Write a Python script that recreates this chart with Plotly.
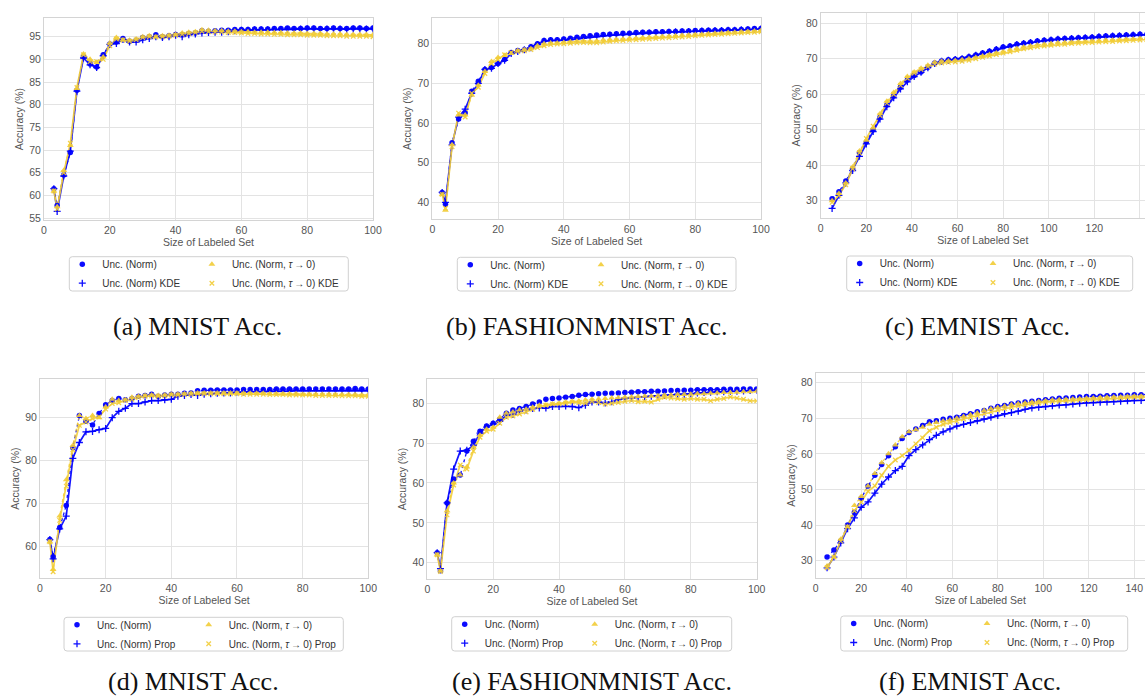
import plotly.graph_objects as go

W, H = 1145, 699
SANS = "Liberation Sans, Arial, sans-serif"
SERIF = "Liberation Serif, Times New Roman, serif"
BLUE = "#0000ff"
GOLD = "#f2cd37"
TICK_GREY = "#555555"

# Labeled-set sizes at which accuracy was recorded
x_mnist = [3, 4] + list(range(6, 101, 2))
x_emnist = list(range(5, 147, 3))

# ---- (a) MNIST, KDE variants ----
a_norm = [61.5, 57.8, 64.5, 69.5, 83.2, 90.6, 89.0, 88.3, 91.0, 93.4,
          93.8, 94.6, 94.0, 94.2, 94.8, 95.0, 95.4, 95.0, 95.2, 95.5,
          95.5, 95.7, 95.8, 96.3, 96.2, 96.3, 96.4, 96.4, 96.6, 96.6,
          96.6, 96.7, 96.7, 96.7, 96.8, 96.8, 96.9, 96.8, 96.8, 96.9,
          96.9, 96.8, 96.8, 96.9, 96.8, 96.8, 96.9, 96.9, 96.8, 96.9]
a_norm_kde = [61.5, 56.5, 64.3, 69.8, 83.0, 90.3, 88.8, 88.2, 90.8, 93.3,
              93.5, 94.4, 93.8, 93.8, 94.3, 94.6, 95.0, 94.8, 95.0, 95.3,
              95.0, 95.4, 95.6, 95.8, 95.9, 96.0, 96.0, 96.1, 96.3, 96.4,
              96.4, 96.5, 96.5, 96.5, 96.6, 96.6, 96.6, 96.6, 96.7, 96.7,
              96.7, 96.6, 96.7, 96.7, 96.7, 96.6, 96.7, 96.7, 96.7, 96.7]
a_tau = [61.0, 57.5, 65.5, 71.0, 83.6, 91.2, 90.0, 89.3, 90.5, 93.6,
         94.8, 94.3, 94.2, 94.5, 95.0, 95.2, 95.0, 95.2, 95.3, 95.5,
         95.8, 96.0, 96.1, 96.5, 96.4, 96.3, 96.3, 96.2, 96.2, 96.1,
         96.1, 96.0, 96.0, 96.0, 95.9, 95.9, 95.8, 95.8, 95.8, 95.7,
         95.7, 95.7, 95.6, 95.6, 95.6, 95.5, 95.5, 95.5, 95.5, 95.4]
a_tau_kde = [61.0, 57.0, 65.0, 71.5, 83.8, 91.0, 89.5, 89.5, 90.0, 93.0,
             94.5, 94.2, 94.0, 94.3, 94.8, 95.0, 94.9, 95.0, 95.1, 95.3,
             95.5, 95.7, 95.9, 96.2, 96.1, 96.0, 96.0, 95.9, 95.9, 95.8,
             95.7, 95.7, 95.6, 95.6, 95.5, 95.5, 95.4, 95.4, 95.4, 95.3,
             95.3, 95.3, 95.2, 95.2, 95.2, 95.1, 95.1, 95.1, 95.1, 95.0]

# ---- (b) FASHIONMNIST, KDE variants ----
b_norm = [42.5, 39.5, 55.0, 61.0, 62.5, 68.0, 70.5, 73.5, 74.0, 75.0,
          76.0, 77.8, 78.3, 78.5, 79.2, 80.0, 80.8, 81.0, 81.0, 81.2,
          81.4, 81.6, 81.8, 82.0, 82.2, 82.3, 82.4, 82.5, 82.6, 82.6,
          82.8, 82.9, 82.9, 83.0, 83.0, 83.1, 83.1, 83.2, 83.2, 83.3,
          83.3, 83.4, 83.4, 83.4, 83.5, 83.5, 83.6, 83.7, 83.8, 83.8]
b_norm_kde = [42.5, 40.0, 54.5, 61.5, 63.5, 67.5, 70.0, 73.5, 73.8, 75.0,
              75.8, 77.5, 78.0, 78.5, 79.0, 79.8, 80.6, 80.8, 80.8, 80.9,
              81.0, 81.2, 81.4, 81.6, 81.8, 82.0, 82.1, 82.2, 82.3, 82.4,
              82.5, 82.6, 82.7, 82.8, 82.8, 82.9, 83.0, 83.0, 83.1, 83.1,
              83.2, 83.2, 83.3, 83.3, 83.4, 83.4, 83.5, 83.5, 83.6, 83.7]
b_tau = [42.0, 38.0, 54.5, 62.0, 62.0, 67.0, 69.5, 73.0, 75.5, 76.5,
         77.0, 77.5, 78.3, 78.5, 78.7, 79.5, 80.0, 80.2, 80.2, 80.3,
         80.5, 80.6, 80.7, 80.6, 80.7, 80.9, 81.0, 81.1, 81.2, 81.3,
         81.4, 81.5, 81.6, 81.7, 81.8, 81.9, 82.0, 82.1, 82.2, 82.3,
         82.4, 82.5, 82.6, 82.7, 82.8, 82.9, 83.0, 83.1, 83.2, 83.3]
b_tau_kde = [42.0, 38.5, 54.0, 62.5, 61.5, 67.5, 69.0, 72.5, 75.0, 76.0,
             77.2, 77.8, 78.0, 78.2, 78.5, 79.0, 79.5, 79.8, 79.9, 80.0,
             80.1, 80.2, 80.3, 80.2, 80.2, 80.4, 80.6, 80.7, 80.8, 80.9,
             81.0, 81.1, 81.2, 81.3, 81.4, 81.5, 81.6, 81.7, 81.8, 82.0,
             82.1, 82.2, 82.3, 82.4, 82.5, 82.6, 82.7, 82.8, 82.9, 83.0]

# ---- (c) EMNIST, KDE variants ----
c_norm = [30.5, 32.5, 35.5, 39.0, 43.5, 46.5, 50.0, 53.5, 57.0, 59.5,
          62.0, 64.0, 65.3, 66.3, 67.6, 68.8, 69.4, 69.7, 69.9, 70.1,
          70.6, 71.1, 71.6, 72.1, 72.7, 73.3, 73.6, 74.1, 74.4, 74.7,
          75.0, 75.2, 75.4, 75.6, 75.7, 75.8, 75.9, 76.0, 76.1, 76.3,
          76.4, 76.5, 76.6, 76.7, 76.8, 76.9, 76.9, 77.0]
c_norm_kde = [27.8, 31.5, 35.0, 38.5, 42.5, 46.0, 49.5, 53.0, 56.5, 59.0,
              61.5, 63.5, 65.0, 66.2, 67.5, 68.7, 69.3, 69.6, 69.8, 70.0,
              70.5, 71.0, 71.5, 72.0, 72.6, 73.2, 73.5, 74.0, 74.3, 74.6,
              74.9, 75.1, 75.3, 75.5, 75.6, 75.7, 75.8, 75.9, 76.0, 76.2,
              76.3, 76.4, 76.5, 76.6, 76.7, 76.8, 76.8, 76.9]
c_tau = [30.0, 32.0, 35.0, 39.5, 44.0, 47.0, 50.5, 54.5, 58.0, 60.5,
         63.0, 65.0, 66.3, 67.3, 68.2, 69.0, 69.3, 69.4, 69.5, 69.7,
         70.0, 70.4, 70.8, 71.2, 71.6, 72.0, 72.5, 72.9, 73.3, 73.6,
         73.9, 74.1, 74.3, 74.5, 74.6, 74.7, 74.8, 74.9, 75.0, 75.1,
         75.2, 75.3, 75.4, 75.5, 75.6, 75.7, 75.8, 75.9]
c_tau_kde = [29.5, 31.5, 34.5, 39.0, 43.5, 47.5, 51.0, 54.0, 57.5, 60.0,
             62.5, 64.5, 66.0, 67.0, 67.8, 68.5, 68.8, 69.0, 69.1, 69.3,
             69.6, 70.0, 70.4, 70.8, 71.2, 71.6, 72.0, 72.4, 72.8, 73.1,
             73.4, 73.6, 73.8, 74.0, 74.1, 74.3, 74.4, 74.5, 74.6, 74.7,
             74.8, 74.9, 75.0, 75.1, 75.2, 75.3, 75.4, 75.5]

# ---- (d) MNIST, Prop variants ----
d_norm = [61.5, 57.5, 64.3, 69.5, 83.0, 90.5, 89.2, 88.3, 91.0, 93.0,
          94.0, 94.5, 94.2, 94.5, 95.0, 95.2, 95.5, 95.0, 95.3, 95.5,
          95.5, 95.7, 95.8, 96.3, 96.4, 96.4, 96.5, 96.5, 96.5, 96.5,
          96.6, 96.6, 96.6, 96.6, 96.6, 96.7, 96.7, 96.7, 96.7, 96.7,
          96.7, 96.7, 96.7, 96.7, 96.7, 96.7, 96.7, 96.8, 96.7, 96.7]
d_norm_prop = [61.5, 57.0, 64.0, 67.0, 80.5, 84.2, 86.7, 86.8, 87.2, 87.5,
               90.0, 91.5, 92.2, 93.3, 93.3, 93.7, 94.0, 94.0, 94.2, 94.3,
               95.0, 95.2, 95.4, 95.2, 95.5, 95.6, 95.7, 95.8, 95.8, 96.0,
               96.0, 96.1, 96.1, 96.1, 96.2, 96.2, 96.2, 96.2, 96.3, 96.3,
               96.3, 96.3, 96.3, 96.3, 96.3, 96.3, 96.3, 96.3, 96.3, 96.3]
d_tau = [61.0, 54.5, 67.0, 75.5, 83.5, 90.5, 89.8, 90.5, 90.0, 92.5,
         94.3, 94.0, 94.2, 94.8, 95.0, 95.2, 95.3, 95.2, 95.3, 95.5,
         95.5, 95.6, 95.7, 95.8, 95.8, 95.8, 95.8, 95.8, 95.8, 95.8,
         95.7, 95.7, 95.7, 95.7, 95.6, 95.6, 95.6, 95.6, 95.6, 95.5,
         95.5, 95.5, 95.5, 95.5, 95.4, 95.4, 95.4, 95.4, 95.3, 95.3]
d_tau_prop = [61.0, 54.0, 66.0, 74.0, 82.5, 88.2, 89.0, 89.8, 90.2, 92.0,
              93.3, 93.5, 94.0, 94.3, 94.7, 95.0, 95.1, 95.0, 95.1, 95.3,
              95.3, 95.4, 95.5, 95.6, 95.6, 95.6, 95.6, 95.6, 95.6, 95.6,
              95.5, 95.5, 95.5, 95.5, 95.4, 95.4, 95.4, 95.3, 95.3, 95.3,
              95.3, 95.2, 95.2, 95.2, 95.2, 95.1, 95.1, 95.1, 95.0, 95.0]

# ---- (e) FASHIONMNIST, Prop variants ----
e_norm = [42.5, 38.0, 55.0, 61.0, 62.0, 68.0, 70.5, 73.0, 74.3, 75.0,
          76.0, 77.5, 78.3, 78.7, 79.2, 79.8, 80.3, 81.0, 81.2, 81.3,
          81.5, 81.7, 82.0, 82.2, 82.3, 82.4, 82.5, 82.5, 82.6, 82.7,
          82.8, 82.9, 82.9, 83.0, 83.0, 83.1, 83.2, 83.2, 83.3, 83.3,
          83.4, 83.4, 83.4, 83.4, 83.5, 83.5, 83.5, 83.6, 83.6, 83.6]
e_norm_prop = [42.5, 38.5, 55.0, 63.5, 68.0, 68.2, 69.5, 72.5, 74.0, 74.8,
               75.5, 77.0, 77.2, 78.0, 78.3, 78.7, 78.8, 78.8, 79.2, 79.2,
               79.3, 79.2, 78.9, 79.5, 80.3, 80.3, 80.1, 80.4, 80.9, 81.2,
               81.3, 81.5, 81.6, 81.8, 81.9, 82.0, 82.2, 82.3, 82.3, 82.4,
               82.6, 82.7, 82.8, 82.9, 82.9, 83.0, 83.0, 83.1, 83.2, 83.3]
e_tau = [42.0, 38.0, 53.0, 60.0, 62.0, 64.0, 69.0, 72.0, 73.5, 74.0,
         76.5, 77.5, 77.8, 78.3, 78.5, 79.0, 79.5, 79.6, 79.8, 80.0,
         80.3, 80.5, 80.6, 80.8, 81.0, 81.1, 81.2, 81.3, 81.4, 81.5,
         81.6, 81.7, 81.8, 81.8, 81.9, 82.0, 82.1, 82.2, 82.2, 82.3,
         82.4, 82.4, 82.5, 82.6, 82.7, 82.7, 82.8, 82.9, 82.9, 83.0]
e_tau_prop = [42.0, 37.8, 52.0, 59.5, 64.5, 63.5, 68.0, 71.5, 73.0, 73.5,
              75.0, 76.5, 76.8, 77.3, 77.8, 78.5, 79.2, 79.5, 79.8, 79.8,
              80.0, 80.3, 80.1, 80.0, 80.5, 80.2, 79.8, 80.0, 80.2, 80.5,
              80.7, 80.4, 80.5, 80.3, 81.0, 81.5, 81.3, 81.2, 81.0, 81.2,
              81.0, 81.0, 80.6, 81.0, 81.2, 81.6, 81.3, 81.0, 80.6, 80.6]

# ---- (f) EMNIST, Prop variants ----
f_norm = [31.0, 33.0, 35.5, 40.0, 43.5, 47.5, 51.0, 54.0, 57.0, 59.5,
          62.0, 64.3, 66.0, 67.0, 68.0, 69.0, 69.3, 69.7, 70.0, 70.3,
          70.8, 71.3, 71.8, 72.2, 72.8, 73.3, 73.6, 74.0, 74.3, 74.6,
          74.8, 75.0, 75.2, 75.4, 75.6, 75.7, 75.8, 76.0, 76.1, 76.1,
          76.2, 76.3, 76.4, 76.5, 76.5, 76.6, 76.6, 76.7]
f_norm_prop = [28.0, 31.0, 35.0, 39.0, 42.0, 45.0, 46.5, 49.0, 51.5, 53.5,
               55.3, 56.5, 59.5, 61.2, 62.5, 64.0, 65.2, 66.2, 67.0, 67.8,
               68.3, 68.8, 69.3, 69.8, 70.3, 70.8, 71.3, 71.6, 72.0, 72.5,
               72.9, 73.1, 73.3, 73.5, 73.7, 73.8, 74.0, 74.2, 74.3, 74.4,
               74.5, 74.6, 74.7, 74.8, 74.9, 75.0, 75.0, 75.1]
f_tau = [28.5, 31.0, 36.0, 39.5, 45.5, 48.0, 51.0, 54.5, 57.5, 60.0,
         62.5, 64.8, 66.2, 66.8, 67.5, 68.3, 68.8, 69.2, 69.5, 70.0,
         70.5, 71.0, 71.5, 72.2, 72.7, 73.0, 73.4, 73.8, 74.1, 74.3,
         74.5, 74.7, 74.9, 75.1, 75.2, 75.3, 75.4, 75.5, 75.6, 75.7,
         75.8, 75.9, 76.0, 76.0, 76.1, 76.2, 76.2, 76.3]
f_tau_prop = [28.0, 31.0, 35.5, 39.5, 44.0, 46.5, 49.5, 51.0, 54.0, 56.5,
              58.3, 59.5, 61.0, 62.8, 64.5, 66.5, 67.5, 68.3, 68.8, 69.2,
              69.8, 70.3, 70.8, 71.3, 71.8, 72.3, 72.7, 73.1, 73.5, 73.8,
              74.1, 74.3, 74.5, 74.7, 74.8, 74.9, 75.0, 75.1, 75.2, 75.3,
              75.4, 75.5, 75.6, 75.7, 75.8, 75.9, 75.9, 76.0]

x_ticks_100 = [0, 20, 40, 60, 80, 100]
x_ticks_140 = [0, 20, 40, 60, 80, 100, 120, 140]
y_ticks_a = [55, 60, 65, 70, 75, 80, 85, 90, 95]
y_ticks_b = [40, 50, 60, 70, 80]
y_ticks_c = [30, 40, 50, 60, 70, 80]
y_ticks_d = [60, 70, 80, 90]
y_ticks_e = [40, 50, 60, 70, 80]
y_ticks_f = [30, 40, 50, 60, 70, 80]

# Panel layout in pixels: plot box (l, t, r, b), legend box (l, t, r, b),
# offset of the second legend column, caption centre / baseline
panels = [
    dict(x=x_mnist, ys=(a_norm, a_norm_kde, a_tau, a_tau_kde), tag="KDE",
         caption="(a) MNIST Acc.", plot=(44, 18.3, 373, 220), xr=(0, 100), yr=(54.6, 99.05),
         xt=x_ticks_100, yt=y_ticks_a, leg=(69.3, 256.7, 348.3, 291), colw=129.6, cap=(197.5, 335)),
    dict(x=x_mnist, ys=(b_norm, b_norm_kde, b_tau, b_tau_kde), tag="KDE",
         caption="(b) FASHIONMNIST Acc.", plot=(432.3, 18.3, 761, 219), xr=(0, 100), yr=(35.8, 86.4),
         xt=x_ticks_100, yt=y_ticks_b, leg=(457.3, 257.3, 736, 291), colw=130.7, cap=(586.5, 335)),
    dict(x=x_emnist, ys=(c_norm, c_norm_kde, c_tau, c_tau_kde), tag="KDE",
         caption="(c) EMNIST Acc.", plot=(820.7, 12.7, 1145, 218), xr=(0, 142.2), yr=(25.1, 83.0),
         xt=x_ticks_140, yt=y_ticks_c, leg=(846.7, 256, 1132.7, 291), colw=133.3, cap=(977, 335)),
    dict(x=x_mnist, ys=(d_norm, d_norm_prop, d_tau, d_tau_prop), tag="Prop",
         caption="(d) MNIST Acc.", plot=(40, 379, 368.3, 578.3), xr=(0, 100), yr=(52.45, 99.05),
         xt=x_ticks_100, yt=y_ticks_d, leg=(64, 617.3, 343.3, 651), colw=131.7, cap=(193, 690)),
    dict(x=x_mnist, ys=(e_norm, e_norm_prop, e_tau, e_tau_prop), tag="Prop",
         caption="(e) FASHIONMNIST Acc.", plot=(427.3, 379, 756.7, 579), xr=(0, 100), yr=(35.9, 86.1),
         xt=x_ticks_100, yt=y_ticks_e, leg=(451.7, 616.7, 731.7, 651), colw=130.0, cap=(591.7, 690)),
    dict(x=x_emnist, ys=(f_norm, f_norm_prop, f_tau, f_tau_prop), tag="Prop",
         caption="(f) EMNIST Acc.", plot=(815.7, 372.7, 1145, 578.3), xr=(0, 144.7), yr=(25.05, 82.8),
         xt=x_ticks_140, yt=y_ticks_f, leg=(840.7, 616, 1127.7, 651), colw=133.3, cap=(970, 690)),
]

TAU = "Unc. (Norm, <i>\u03c4</i>\u2009\u2192\u20090)"
# name, colour, line dash, line width, marker symbol, marker size, legend column
styles = [
    ("Unc. (Norm)", BLUE, "dot", 1.3, "circle", 5.5, 0),
    ("Unc. (Norm) {tag}", BLUE, "solid", 1.7, "cross-thin", 5, 0),
    (TAU, GOLD, "dot", 1.3, "triangle-up", 6, 1),
    (TAU + " {tag}", GOLD, "solid", 1.7, "x-thin", 4.5, 1),
]


def px_x(v):
    return v / W


def px_y(v):
    return 1 - v / H


def rounded_box(l, t, r, b, rad=3.0):
    xl, xr_ = px_x(l), px_x(r)
    yt, yb = px_y(t), px_y(b)
    dx, dy = rad / W, rad / H
    return (f"M {xl + dx},{yt} L {xr_ - dx},{yt} Q {xr_},{yt} {xr_},{yt - dy} "
            f"L {xr_},{yb + dy} Q {xr_},{yb} {xr_ - dx},{yb} "
            f"L {xl + dx},{yb} Q {xl},{yb} {xl},{yb + dy} "
            f"L {xl},{yt - dy} Q {xl},{yt} {xl + dx},{yt} Z")


def legend_id(n):
    return "legend" if n == 1 else f"legend{n}"


fig = go.Figure()
layout = dict(
    width=W, height=H, margin=dict(l=0, r=0, t=0, b=0),
    paper_bgcolor="white", plot_bgcolor="white", showlegend=True,
    font=dict(family=SANS, color=TICK_GREY, size=10.5),
    template="none", shapes=[], annotations=[],
)

for i, p in enumerate(panels, start=1):
    s = "" if i == 1 else str(i)
    pl, pt, pr, pb = p["plot"]
    ll, lt, lr, lb = p["leg"]
    col_legends = [legend_id(2 * i - 1), legend_id(2 * i)]

    # connecting lines
    for (name, col, dash, lw, sym, ms, colno), y in zip(styles, p["ys"]):
        fig.add_trace(go.Scatter(
            x=p["x"], y=y, mode="lines", xaxis="x" + s, yaxis="y" + s,
            line=dict(color=col, width=lw, dash=dash),
            opacity=0.9 if col == BLUE else 0.85, showlegend=False, hoverinfo="skip"))
    # markers (also the legend keys)
    for rank, ((name, col, dash, lw, sym, ms, colno), y) in enumerate(zip(styles, p["ys"]), start=1):
        thin = sym.endswith("-thin")
        fig.add_trace(go.Scatter(
            x=p["x"], y=y, mode="markers", xaxis="x" + s, yaxis="y" + s,
            name=name.format(tag=p["tag"]), legend=col_legends[colno], legendrank=rank,
            marker=dict(symbol=sym, size=ms, color=col,
                        line=dict(width=1.3 if thin else 0, color=col)),
            opacity=0.95 if col == BLUE else 0.9))

    axis_common = dict(
        showgrid=True, gridcolor="#e3e3e3", gridwidth=1, zeroline=False,
        showline=True, mirror=True, linecolor="#d4d4d4", linewidth=1,
        ticks="", tickfont=dict(family=SANS, size=10.5, color=TICK_GREY),
    )
    layout["xaxis" + s] = dict(
        axis_common, domain=[px_x(pl), px_x(pr)], range=list(p["xr"]), anchor="y" + s,
        tickvals=p["xt"],
        title=dict(text="Size of Labeled Set", standoff=2,
                   font=dict(family=SANS, size=10.5, color=TICK_GREY)))
    layout["yaxis" + s] = dict(
        axis_common, domain=[px_y(pb), px_y(pt)], range=list(p["yr"]), anchor="x" + s,
        tickvals=p["yt"],
        title=dict(text="Accuracy (%)", standoff=3,
                   font=dict(family=SANS, size=10.5, color=TICK_GREY)))

    layout["shapes"].append(dict(
        type="path", xref="paper", yref="paper", path=rounded_box(ll, lt, lr, lb),
        fillcolor="white", line=dict(color="#d0d0d0", width=1), layer="above"))
    for k, lid in enumerate(col_legends):
        layout[lid] = dict(
            x=px_x(ll - 7 + k * p["colw"]), y=px_y(lt - 7), xanchor="left", yanchor="top",
            orientation="v", bgcolor="rgba(0,0,0,0)", borderwidth=0,
            font=dict(family=SANS, size=10, color="#333333"))

    cx, cy = p["cap"]
    layout["annotations"].append(dict(
        text=p["caption"], xref="paper", yref="paper", x=px_x(cx), y=px_y(cy - 8.5),
        xanchor="center", yanchor="middle", showarrow=False,
        font=dict(family=SERIF, size=26, color="#111111")))

fig.update_layout(**layout)
fig.write_html("out.html")
